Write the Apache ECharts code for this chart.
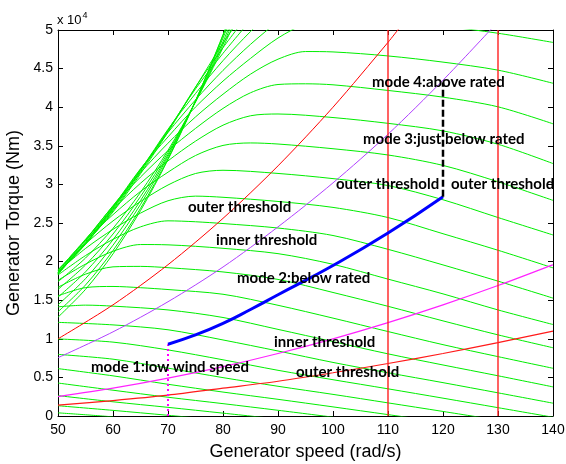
<!DOCTYPE html>
<html>
<head>
<meta charset="utf-8">
<script src="https://cdn.jsdelivr.net/npm/echarts@6/dist/echarts.min.js"></script>
<style>
  html, body { margin: 0; padding: 0; background: #fff; }
  #chart { width: 566px; height: 464px; }
</style>
</head>
<body>
<div id="chart"></div>
<script>
// 轉矩單位：x 10^4 Nm，轉速單位：rad/s

// 風力機轉矩曲線（綠色），每條一個風速，[轉速, 轉矩]
const greenCurves = [
  [[50, 0.041], [55, 0.016], [60, -0.011]],
  [[50, 0.133], [60, 0.073], [70, 0.009], [80, -0.056]],
  [[50, 0.264], [60, 0.184], [70, 0.112], [80, 0.037], [90, -0.039]],
  [[50, 0.427], [60, 0.334], [70, 0.243], [80, 0.160], [90, 0.074], [100, -0.015]],
  [[50, 0.614], [60, 0.520], [70, 0.411], [80, 0.310], [90, 0.216], [100, 0.118], [110, 0.018], [120, -0.083]],
  [[50, 0.798], [60, 0.736], [70, 0.620], [80, 0.497], [90, 0.385], [100, 0.280], [110, 0.170], [120, 0.059], [130, -0.054]],
  [[50, 0.998], [60, 0.957], [70, 0.856], [80, 0.728], [90, 0.592], [100, 0.470], [110, 0.352], [120, 0.231], [130, 0.108], [140, -0.016]],
  [[50, 1.213], [60, 1.180], [70, 1.117], [80, 0.985], [90, 0.842], [100, 0.694], [110, 0.560], [120, 0.432], [130, 0.300], [140, 0.166]],
  [[50, 1.414], [55, 1.436], [60, 1.423], [70, 1.374], [80, 1.276], [90, 1.122], [100, 0.964], [110, 0.805], [120, 0.661], [130, 0.521], [140, 0.377]],
  [[50, 1.556], [55, 1.663], [60, 1.678], [65, 1.662], [70, 1.638], [80, 1.577], [90, 1.434], [100, 1.268], [110, 1.094], [120, 0.924], [130, 0.769], [140, 0.618]],
  [[50, 1.668], [55, 1.837], [60, 1.932], [65, 1.938], [70, 1.921], [80, 1.866], [90, 1.769], [100, 1.600], [110, 1.421], [120, 1.232], [130, 1.051], [140, 0.884]],
  [[50, 1.758], [55, 1.967], [60, 2.134], [65, 2.221], [70, 2.217], [80, 2.172], [90, 2.103], [100, 1.965], [110, 1.773], [120, 1.582], [130, 1.374], [140, 1.185]],
  [[50, 1.827], [55, 2.078], [60, 2.288], [65, 2.450], [70, 2.528], [75, 2.516], [80, 2.493], [90, 2.435], [100, 2.338], [110, 2.159], [120, 1.957], [130, 1.747], [140, 1.527]],
  [[50, 1.871], [55, 2.170], [60, 2.418], [65, 2.628], [70, 2.788], [75, 2.848], [80, 2.833], [90, 2.779], [100, 2.702], [110, 2.571], [120, 2.361], [130, 2.147], [140, 1.919]],
  [[50, 1.896], [55, 2.230], [60, 2.527], [65, 2.778], [70, 2.992], [75, 3.141], [80, 3.183], [90, 3.142], [100, 3.075], [110, 2.985], [120, 2.801], [130, 2.571], [140, 2.345]],
  [[50, 1.889], [55, 2.275], [60, 2.608], [65, 2.909], [70, 3.158], [75, 3.374], [80, 3.505], [85, 3.537], [90, 3.523], [100, 3.462], [110, 3.381], [120, 3.246], [130, 3.034], [140, 2.793]],
  [[50, 1.878], [55, 2.289], [60, 2.674], [65, 3.015], [70, 3.305], [75, 3.560], [80, 3.767], [85, 3.889], [90, 3.912], [100, 3.866], [110, 3.791], [120, 3.693], [130, 3.520], [140, 3.270]],
  [[50, 1.865], [55, 2.283], [60, 2.719], [65, 3.095], [70, 3.436], [75, 3.725], [80, 3.984], [85, 4.187], [90, 4.294], [95, 4.303], [100, 4.290], [110, 4.217], [120, 4.130], [130, 4.005], [140, 3.785]],
  [[50, 1.850], [55, 2.275], [60, 2.725], [65, 3.151], [70, 3.534], [75, 3.874], [80, 4.168], [85, 4.428], [90, 4.622], [95, 4.721], [100, 4.716], [110, 4.664], [120, 4.584], [130, 4.480], [140, 4.310]],
  [[50, 1.833], [55, 2.257], [60, 2.711], [65, 3.202], [70, 3.615], [75, 4.002], [80, 4.338], [85, 4.632], [90, 4.896], [95, 5.082], [100, 5.164], [110, 5.128], [120, 5.051], [130, 4.958], [140, 4.839]],
  [[50, 1.842], [55, 2.241], [60, 2.702], [65, 3.196], [70, 3.673], [75, 4.095], [80, 4.477], [85, 4.814], [90, 5.111], [95, 5.370]],
  [[50, 1.851], [55, 2.228], [60, 2.691], [65, 3.184], [70, 3.714], [75, 4.177], [80, 4.603], [85, 4.980], [90, 5.315]],
  [[50, 1.855], [55, 2.224], [60, 2.678], [65, 3.178], [70, 3.704], [75, 4.237], [80, 4.698], [85, 5.125]],
  [[50, 1.857], [55, 2.233], [60, 2.658], [65, 3.162], [70, 3.693], [75, 4.260], [80, 4.771], [85, 5.239]],
  [[50, 1.859], [55, 2.240], [60, 2.643], [65, 3.138], [70, 3.679], [75, 4.258], [80, 4.830], [85, 5.332]],
  [[50, 1.740], [55, 2.046], [60, 2.431], [65, 2.897], [70, 3.442], [75, 4.068], [80, 4.773], [85, 5.559]],
  [[50, 1.640], [55, 1.956], [60, 2.357], [65, 2.843], [70, 3.414], [75, 4.070], [80, 4.811], [85, 5.637]],
  [[50, 1.540], [55, 1.867], [60, 2.283], [65, 2.790], [70, 3.386], [75, 4.073], [80, 4.849], [85, 5.716]],
  [[50, 1.440], [55, 1.779], [60, 2.212], [65, 2.741], [70, 3.364], [75, 4.083], [80, 4.896], [85, 5.805]],
  [[50, 1.350], [55, 1.697], [60, 2.143], [65, 2.690], [70, 3.336], [75, 4.083], [80, 4.929], [85, 5.876]],
  [[50, 1.280], [55, 1.640], [60, 2.100], [65, 2.660], [70, 3.320], [75, 4.080], [80, 4.940], [85, 5.900]],
]

// 門檻線
const outerUpper = [[50, 1.0], [60, 1.44], [70, 1.96], [80, 2.56], [90, 3.24], [100, 4.0], [110, 4.84], [112, 5.02]]
const innerUpper = [[50, 0.755], [60, 1.09], [70, 1.48], [80, 1.93], [90, 2.45], [100, 3.02], [110, 3.65], [120, 4.35], [129, 5.03]]
const innerLower = [[50, 0.25], [60, 0.36], [70, 0.49], [80, 0.64], [90, 0.81], [100, 1.0], [110, 1.21], [120, 1.44], [130, 1.69], [140, 1.96]]
const outerLower = [[50, 0.14], [60, 0.20], [70, 0.27], [80, 0.36], [90, 0.45], [100, 0.56], [110, 0.68], [120, 0.81], [130, 0.95], [140, 1.10]]

// 操作軌跡
const mode2Path = [[70, 0.93], [75, 1.05], [80, 1.2], [85, 1.38], [90, 1.57], [100, 1.95], [110, 2.37], [120, 2.84]]
const mode4Path = [[120, 2.84], [120, 4.32]]
const mode1Path = [[70, 0], [70, 0.93]]
const speedLimit1 = [[110, 0], [110, 5]]
const speedLimit2 = [[130, 0], [130, 5]]

// 標註文字 [文字, 左側px, 中心px]
const labels = [
  ['mode 4:above rated', 372, 82],
  ['mode 3:just below rated', 363, 139],
  ['outer threshold', 336, 184],
  ['outer threshold', 451, 184],
  ['outer threshold', 188, 207],
  ['inner threshold', 216, 240],
  ['mode 2:below rated', 237, 278],
  ['inner threshold', 274, 342],
  ['outer threshold', 296, 372],
  ['mode 1:low wind speed', 91, 367],
]

const lineSeries = (data, color, width, type, smooth) => ({
  type: 'line',
  data: data,
  showSymbol: false,
  silent: true,
  smooth: smooth || false,
  lineStyle: { color: color, width: width, type: type || 'solid' },
})

const series = []
greenCurves.forEach((pts) => series.push(lineSeries(pts, '#00ee00', 1, 'solid', 0.3)))
series.push(lineSeries(outerUpper, '#ff0000', 1, 'solid', 0.3))
series.push(lineSeries(innerUpper, '#b040ff', 1, 'solid', 0.3))
series.push(lineSeries(innerLower, '#ff22ff', 1.2, 'solid', 0.3))
series.push(lineSeries(outerLower, '#ff1a1a', 1.2, 'solid', 0.3))
series.push(lineSeries(speedLimit1, '#ff2020', 1.4))
series.push(lineSeries(speedLimit2, '#ff2020', 1.4))
series.push(lineSeries(mode1Path, '#ff00ff', 2, [2, 3]))
series.push(lineSeries(mode2Path, '#0000ff', 3, 'solid', 0.5))
series.push(lineSeries(mode4Path, '#000000', 2.5, [7, 3]))

const axisFont = { color: '#000', fontSize: 14, fontFamily: 'Liberation Sans' }
const nameFont = { color: '#000', fontSize: 18, fontFamily: 'Liberation Sans' }
const boxAxis = {
  axisLine: { onZero: false, lineStyle: { color: '#000', width: 1 } },
  axisTick: { inside: true, length: 5, lineStyle: { color: '#000' } },
  splitLine: { show: false },
}

const chart = echarts.init(document.getElementById('chart'))
chart.setOption({
  animation: false,
  backgroundColor: '#fff',
  grid: { left: 58, top: 30, right: 13, bottom: 48, containLabel: false, outerBoundsMode: 'none' },
  xAxis: [
    {
      type: 'value', min: 50, max: 140, interval: 10, position: 'bottom', ...boxAxis,
      axisLabel: { ...axisFont, margin: 7 },
      name: 'Generator speed (rad/s)', nameLocation: 'middle', nameGap: 27, nameTextStyle: nameFont,
    },
    { type: 'value', min: 50, max: 140, interval: 10, position: 'top', ...boxAxis, axisLabel: { show: false } },
  ],
  yAxis: [
    {
      type: 'value', min: 0, max: 5, interval: 0.5, position: 'left', ...boxAxis,
      axisLabel: { ...axisFont, margin: 5 },
      name: 'Generator Torque (Nm)', nameLocation: 'middle', nameGap: 27, nameTextStyle: nameFont,
    },
    { type: 'value', min: 0, max: 5, interval: 0.5, position: 'right', ...boxAxis, axisLabel: { show: false } },
  ],
  graphic: [
    {
      type: 'text', x: 57, y: 20,
      style: {
        text: 'x 10{sup|4}', textVerticalAlign: 'middle',
        font: '13px "Liberation Sans"', fill: '#000',
        rich: { sup: { fontSize: 9, fontFamily: 'Liberation Sans', verticalAlign: 'top', padding: [0, 0, 8, 1] } },
      },
    },
  ].concat(labels.map((l) => ({
    type: 'text', x: l[1], y: l[2], silent: true, z: 100,
    style: { text: l[0], textVerticalAlign: 'middle', font: 'bold 15px Lato', fill: '#000' },
  }))),
  series: series,
})
</script>
</body>
</html>
